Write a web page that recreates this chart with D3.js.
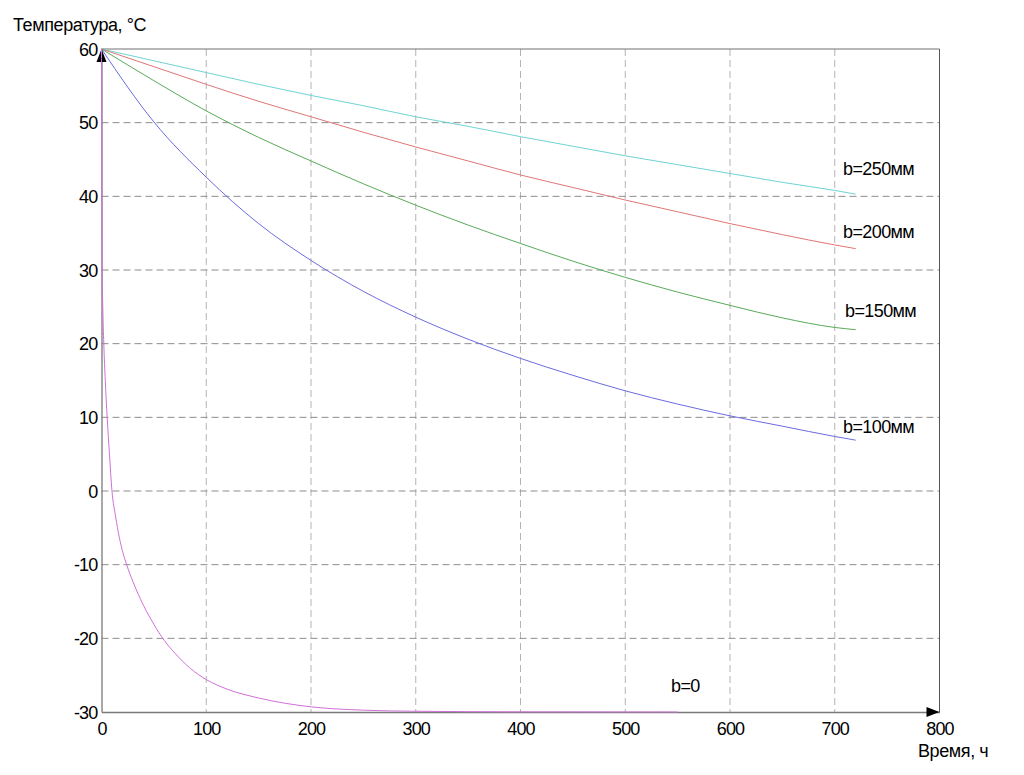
<!DOCTYPE html>
<html><head><meta charset="utf-8">
<script src="https://cdn.jsdelivr.net/npm/d3@7"></script>
<style>
body{margin:0;background:#fff;}
text{font-family:"Liberation Sans",Arial,sans-serif;fill:#000;}
</style></head>
<body>
<svg id="c" width="1024" height="775"></svg>
<script>
const xTicks=[0,100,200,300,400,500,600,700,800];
const yTicks=[-30,-20,-10,0,10,20,30,40,50,60];
const tStd=[0,50,100,150,200,250,300,350,400,450,500,550,600,650,700,720];
const b250=[60,58.4,56.8,55.2,53.7,52.3,50.8,49.5,48.1,46.8,45.5,44.3,43.1,41.9,40.8,40.3];
const b200=[60,57.6,55.2,52.9,50.8,48.7,46.7,44.8,42.9,41.2,39.5,37.9,36.3,34.8,33.4,32.9];
const b150=[60,55.7,51.6,48.0,44.8,41.7,38.8,36.1,33.6,31.2,29.0,27.0,25.2,23.5,22.2,21.9];
const b100=[60,50.1,42.6,36.3,31.3,27.1,23.6,20.6,18.0,15.7,13.6,11.8,10.2,8.8,7.4,6.9];
const t0=[0,0.05,0.15,0.3,0.6,1.2,2.2,3.6,5.4,7.6,10,13.5,17,20.5,24,30,40,50,60,70,85,100,120,150,200,250,300,400,550];
const b0=[60,55,48,40,30,25,20,15,10,5,0,-3.5,-6.3,-8.4,-10,-12.3,-15.5,-18.1,-20.3,-22,-24.1,-25.6,-26.9,-28.1,-29.3,-29.75,-29.9,-29.98,-30];
const seriesNames=["b=250мм","b=200мм","b=150мм","b=100мм","b=0"];

const svg=d3.select("#c");
const x=d3.scaleLinear().domain([0,800]).range([101.5,939.5]);
const y=d3.scaleLinear().domain([-30,60]).range([712,49]);

// grid
svg.append("g").selectAll("line").data(xTicks.slice(1,-1)).join("line")
 .attr("x1",d=>x(d)).attr("x2",d=>x(d)).attr("y1",y(60)).attr("y2",y(-30))
 .attr("stroke","#b4b4b4").attr("stroke-dasharray","7,4");
svg.append("g").selectAll("line").data(yTicks.slice(1,-1)).join("line")
 .attr("x1",x(0)).attr("x2",x(800)).attr("y1",d=>y(d)).attr("y2",d=>y(d))
 .attr("stroke","#8c8c8c").attr("stroke-dasharray","7,4");

// frame
svg.append("line").attr("x1",x(0)).attr("x2",x(800)).attr("y1",y(60)).attr("y2",y(60)).attr("stroke","#707070");
svg.append("line").attr("x1",x(800)).attr("x2",x(800)).attr("y1",y(60)).attr("y2",y(-30)).attr("stroke","#555");

// axes
const fmt=d=>String(d);
const xa=d3.axisBottom(x).tickValues(xTicks).tickFormat(fmt).tickSize(0).tickPadding(10);
const ya=d3.axisLeft(y).tickValues(yTicks).tickFormat(fmt).tickSize(0).tickPadding(4);
const gx=svg.append("g").attr("transform",`translate(0,${y(-30)})`).call(xa);
const gy=svg.append("g").attr("transform",`translate(${x(0)},0)`).call(ya);
[gx,gy].forEach(g=>{g.select(".domain").attr("stroke","#7a7a7a").attr("stroke-width",1.3);
 g.selectAll("text").style("font-size","18px").style("letter-spacing","-0.8px").attr("fill","#000");});
gy.selectAll("text").attr("dy","0.35em");
gx.selectAll("text").attr("dy","0.71em");

// arrows
svg.append("path").attr("d",`M${x(0)},${y(60)} l-5,13 l10,0 z`).attr("fill","#000");
svg.append("path").attr("d",`M${x(800)},${y(-30)} l-13,-5 l0,10 z`).attr("fill","#000");

// lines
const line=d3.line().x(d=>x(d[0])).y(d=>y(d[1])).curve(d3.curveMonotoneX);
const mk=(ts,vs)=>ts.map((t,i)=>[t,vs[i]]);
const series=[
 {d:mk(tStd,b250),c:"#6fd3d3"},
 {d:mk(tStd,b200),c:"#e07676"},
 {d:mk(tStd,b150),c:"#5aaa5a"},
 {d:mk(tStd,b100),c:"#6b6be0"},
 {d:mk(t0,b0),c:"#d070d8"}
];
svg.append("g").selectAll("path").data(series).join("path")
 .attr("d",s=>line(s.d)).attr("fill","none").attr("stroke",s=>s.c).attr("stroke-width",1);

// labels
const labPos=[[843,169],[843,232],[845,311],[843,427],[671,686]];
svg.append("g").selectAll("text").data(seriesNames).join("text")
 .attr("x",(d,i)=>labPos[i][0]).attr("y",(d,i)=>labPos[i][1]).attr("dy","0.35em")
 .style("font-size","18px").style("letter-spacing","-0.6px").text(d=>d);

svg.append("text").attr("x",13).attr("y",25).attr("dy","0.35em").style("font-size","18px").style("letter-spacing","-0.4px").text("Температура, °C");
svg.append("text").attr("x",918).attr("y",751).attr("dy","0.35em").style("font-size","18px").style("letter-spacing","-0.4px").text("Время, ч");
</script>
</body></html>
